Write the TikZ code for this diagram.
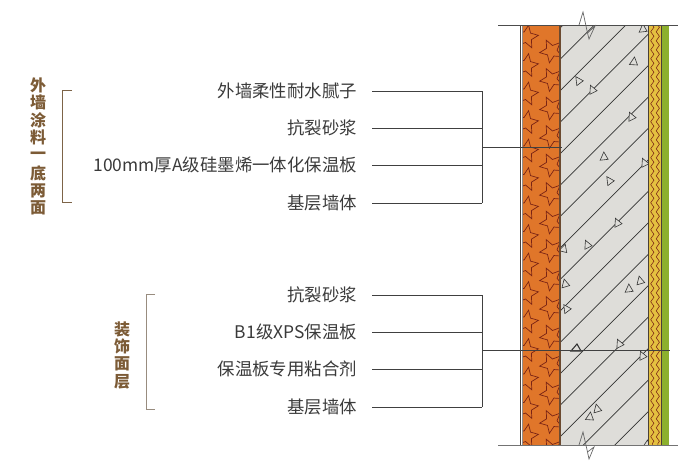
\documentclass[tikz,border=0pt]{standalone}
\usepackage{fontspec}
\setmainfont{Noto Sans CJK SC}
\usetikzlibrary{decorations.pathmorphing}
\definecolor{brick}{HTML}{E0762A}
\definecolor{brickln}{HTML}{7A2415}
\definecolor{conc}{HTML}{DEDDD9}
\definecolor{mortar}{HTML}{E4C040}
\definecolor{finish}{HTML}{8CB02E}
\definecolor{wallln}{HTML}{4A4038}
\definecolor{edge}{HTML}{6B4A30}
\definecolor{brown}{HTML}{7C5B36}
\definecolor{txt}{HTML}{3A3A3A}
\tikzset{
  lab/.style={anchor=east,inner sep=0pt,font=\fontsize{17.4}{17.4}\selectfont,text=txt},
  vlab/.style={inner sep=0pt,font=\fontsize{16}{16}\selectfont\bfseries,text=brown},
  leader/.style={draw=black!75,line width=0.9pt},
  brk/.style={draw=black!60,line width=0.7pt,line join=miter},
  tri/.style={draw=black!80,line width=0.6pt,fill=conc},
  wave/.style={draw=brickln,line width=0.55pt,decorate,decoration={zigzag,segment length=9pt,amplitude=1.6pt}},
}
\newcommand{\mystar}[3]{% x, y, rotation
  \draw[draw=brickln,line width=0.7pt,line join=miter]
    ({#1+12*cos(#3)},{#2+12*sin(#3)})
    -- ({#1+5.6*cos(#3+36)},{#2+5.6*sin(#3+36)})
    -- ({#1+12*cos(#3+72)},{#2+12*sin(#3+72)})
    -- ({#1+5.6*cos(#3+108)},{#2+5.6*sin(#3+108)})
    -- ({#1+12*cos(#3+144)},{#2+12*sin(#3+144)})
    -- ({#1+5.6*cos(#3+180)},{#2+5.6*sin(#3+180)})
    -- ({#1+12*cos(#3+216)},{#2+12*sin(#3+216)})
    -- ({#1+5.6*cos(#3+252)},{#2+5.6*sin(#3+252)})
    -- ({#1+12*cos(#3+288)},{#2+12*sin(#3+288)})
    -- ({#1+5.6*cos(#3+324)},{#2+5.6*sin(#3+324)})
    -- cycle;}
\begin{document}
\begin{tikzpicture}[x=1pt,y=-1pt]
\useasboundingbox (0,0) rectangle (700,471);
% wall layers
\fill[brick] (522,25) rectangle (560,445);
\fill[conc] (560,25) rectangle (648,445);
\fill[mortar] (648,25) rectangle (662,445);
\fill[finish] (662,25) rectangle (668.5,445);
% bricks
\begin{scope}
\clip (522,25) rectangle (560,445);
\foreach \k in {0,...,14}{
  \pgfmathsetmacro{\ya}{37+28.5*\k}
  \pgfmathsetmacro{\yb}{51+28.5*\k}
  \mystar{526.5}{\ya}{-8}
  \mystar{551.5}{\yb}{172}
}
\end{scope}
% hatching
\begin{scope}
\clip (560,25) rectangle (648,445);
\foreach \k in {0,...,16}{
  \pgfmathsetmacro{\c}{588+31.45*\k}
  \draw[black!80,line width=0.7pt] (540,{\c-540}) -- ({\c-20},20);
}
\foreach \x/\y/\r in {643/28/10,634/61/0,578/80/40,592/89/30,631/116/30,604/156/10,609/180/40,644/162/30,617/222/30,587/244/30,564/248/-10,565/283/20,566/308/40,629/288/10,640/280/20,619/343/30,642/355/30,597/408/20,590/416/0,647/444/0}{
  \draw[tri,rotate around={\r:(\x,\y)}] (\x-4.5,\y+3.5) -- (\x+3.5,\y+4) -- (\x+0.5,\y-4) -- cycle;
}
\draw[tri,line width=1.1pt] (571,351) -- (581,351) -- (577,344) -- cycle;
\end{scope}
% mortar waves
\draw[wave] (652.3,25) -- (652.3,445);
\draw[wave] (657.8,25) -- (657.8,445);
% wall edges
\draw[draw=wallln,line width=0.8pt] (520.8,25) -- (520.8,445);
\draw[draw=wallln!60,line width=0.8pt] (522.3,25) -- (522.3,445);
\draw[draw=edge,line width=1.5pt] (560,25) -- (560,445);
\draw[draw=wallln,line width=1.2pt] (648.5,25) -- (648.5,445);
\draw[draw=wallln,line width=1pt] (661.7,25) -- (661.7,445);
% end lines and breaks
\coordinate (tl) at (498,25);
\coordinate (tr) at (677.5,25);
\coordinate (bl) at (498,445.3);
\coordinate (br) at (677.5,445.3);
\draw[black!70,line width=0.9pt] (tl) -- (tr);
\draw[black!55,line width=0.9pt] (bl) -- (br);
\draw[brk] (579,25) -- (583,12) -- (587.5,33) -- (595,26) -- (589,39) -- (587.5,33);
\draw[brk] (579,445) -- (583,432) -- (587.5,452) -- (594,447) -- (589,459) -- (587.5,452);
% labels
\node[lab] (a1) at (357,91) {外墙柔性耐水腻子};
\node[lab] (a2) at (357,128) {抗裂砂浆};
\node[lab] (a3) at (357,165) {100mm厚A级硅墨烯一体化保温板};
\node[lab] (a4) at (357,203) {基层墙体};
\node[lab] (b1) at (357,295) {抗裂砂浆};
\node[lab] (b2) at (357,332) {B1级XPS保温板};
\node[lab] (b3) at (357,369) {保温板专用粘合剂};
\node[lab] (b4) at (357,407) {基层墙体};
% leaders
\coordinate (ja) at (482,147);
\coordinate (jb) at (482,350.5);
\coordinate (ea) at (562,147);
\coordinate (eb) at (670,350.5);
\foreach \n in {a1,a2,a3,a4}{
  \draw[leader] ([xshift=15pt]357,0 |- \n.east) -- (ja |- \n.east);
}
\foreach \n in {b1,b2,b3,b4}{
  \draw[leader] ([xshift=15pt]357,0 |- \n.east) -- (jb |- \n.east);
}
\draw[leader] (ja |- a1.east) -- (ja |- a4.east);
\draw[leader] (jb |- b1.east) -- (jb |- b4.east);
\draw[leader] (ja) -- (ea);
\draw[leader] (jb) -- (eb);
% vertical titles
\foreach \t [count=\i from 0] in {外,墙,涂,料,一,底,两,面}{
  \node[vlab] (va\i) at (38,{85+17.6*\i}) {\t};
}
\foreach \t [count=\i from 0] in {装,饰,面,层}{
  \node[vlab] (vb\i) at (122,{329+17.6*\i}) {\t};
}
% brackets
\draw[draw=brown!75!gray,line width=0.9pt] (72,90) -- (62.7,90) -- (62.7,202.7) -- (72,202.7);
\draw[draw=brown!45!gray!80,line width=0.9pt] (155,294) -- (146.7,294) -- (146.7,409) -- (155,409);
\end{tikzpicture}
\end{document}
